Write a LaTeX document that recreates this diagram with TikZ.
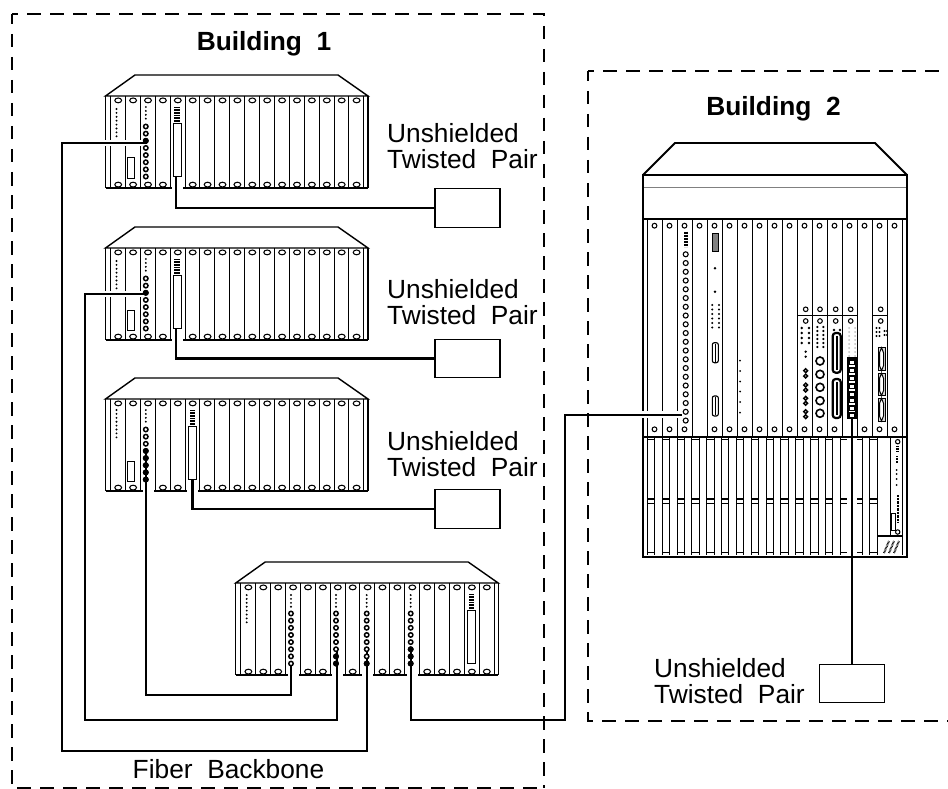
\documentclass[tikz,border=0pt]{standalone}
\usepackage{fontspec}
\setmainfont{Liberation Sans}
\tikzset{
  zone/.style={line width=1.9pt,dash pattern=on 13.5pt off 9.5pt},
  cable/.style={line width=2.4pt,preaction={draw,white,line width=6.5pt}},
  feed/.style={line width=2.2pt},
  termbox/.style={draw,line width=1.1pt,fill=white,minimum width=65pt,minimum height=38.5pt,inner sep=0pt},
  caption/.style={inner sep=0pt,align=left,font=\fontsize{26.3}{26.5}\selectfont},
  title/.style={inner sep=0pt,font=\bfseries\fontsize{26.3}{26.5}\selectfont},
  hole/.style={line width=1.05pt,fill=white},
  port/.style={line width=1.5pt,fill=white},
  darkport/.style={line width=1.5pt,fill=black},
  slotline/.style={line width=.9pt},
}
% small shelf: #1 = slots with no lower hole
\newcommand{\shelf}[1]{
  \draw[line width=1.4pt] (0,0)--(29.5,-21)--(232.5,-21)--(262.5,0)--cycle;
  \draw[line width=1.2pt] (0,0)--(0,92) (262.5,0)--(262.5,92);
  \foreach \k in {0,...,17} \draw[slotline] (5+14.9*\k,0)--(5+14.9*\k,92);
  \draw[line width=1.9pt] (0,92)--(262.5,92);
  \foreach \k in {0,...,16} {
    \draw[hole] (12.7+14.9*\k,4.4) ellipse (3.4 and 2.4);
    \draw[hole] (12.7+14.9*\k,88.6) ellipse (3.4 and 2.4);
  }
  \foreach \k in {#1} \fill[white] (12.7+14.9*\k-5.5,84) rectangle (12.7+14.9*\k+5.5,94);
}
\newcommand{\leds}[3]{\foreach \p in {0,...,#3} \fill (#1,#2+3.9*\p) circle (1.05);}
\newcommand{\ports}[1]{\foreach \p in {0,...,7} \draw[port] (#1,30.5+7.15*\p) circle (2.2);}
\newcommand{\darkports}[2]{\foreach \p in {#2} \draw[darkport] (#1,30.5+7.15*\p) circle (2.1);}
\newcommand{\rjcard}[1]{
  \draw[line width=5.5pt,dash pattern=on .9pt off .7pt] (#1,11)--(#1,27.5);
  \draw[line width=1.1pt,fill=white] (#1-4,27.7) rectangle (#1+4,80.3);
}
\newcommand{\cardtag}[1]{\draw[line width=1pt,fill=white] (#1-3.5,62) rectangle (#1+3.5,82.5);}
\begin{document}
\begin{tikzpicture}[x=1pt,y=-1pt]
  \useasboundingbox (0,0) rectangle (948,789);
  \fill[white] (0,0) rectangle (948,789);
  \coordinate (shelfA) at (105.5,96);
  \coordinate (shelfB) at (105.5,248);
  \coordinate (shelfC) at (105.5,399);
  \coordinate (shelfD) at (235.7,583);
  % shelves without their cards
  \begin{scope}[shift={(shelfA)}] \shelf{4} \end{scope}
  \begin{scope}[shift={(shelfB)}] \shelf{4} \end{scope}
  \begin{scope}[shift={(shelfC)}] \shelf{2,5} \end{scope}
  \begin{scope}[shift={(shelfD)}] \shelf{3,6,8,11} \end{scope}
  % big shelf
  \draw[line width=1.8pt] (643,175)--(675,143)--(875,143)--(907,175);
  \draw[line width=.9pt,gray] (643,187)--(907,187);
  \draw[line width=1.8pt] (643,219)--(907,219);
  \foreach \k in {0,...,17} \draw[slotline] (647.3+15*\k,219)--(647.3+15*\k,437);
  \foreach \k in {0,...,16} {
    \draw[hole] (654.5+15*\k,225.7) circle (2.4);
    \draw[hole] (654.5+15*\k,429.3) circle (2.4);
  }
  \fill[white] (696,424) rectangle (705,435);
  \fill[white] (846,424) rectangle (857,435);
  \foreach \k in {0,...,30} \draw[slotline] (647.3+7.42*\k,437)--(647.3+7.42*\k,555);
  \foreach \k in {0,2,...,30} {
    \draw[line width=1.1pt] (647.3+7.42*\k,439.5)--(654.7+7.42*\k,439.5);
    \draw[line width=1.1pt] (647.3+7.42*\k,499)--(654.7+7.42*\k,499);
    \draw[slotline] (647.3+7.42*\k,503.5)--(654.7+7.42*\k,503.5);
    \draw[slotline] (647.3+7.42*\k,552)--(654.7+7.42*\k,552);
  }
  \fill[white] (846.7,437.8) rectangle (857.3,555.8);
  \draw[line width=1.8pt] (643,437)--(907,437);
  \fill[white] (877.7,438) rectangle (906,556);
  \draw[slotline] (877.7,437)--(877.7,555) (890,437)--(890,536) (902.7,437)--(902.7,555);
  \draw[line width=1.5pt] (877.7,536)--(902.7,536);
  \draw[hole] (897.7,441.7) circle (2.2);
  \draw[hole] (897.7,532) circle (2.2);
  \draw[line width=3pt,dash pattern=on .8pt off .8pt] (897,446)--(897,452);
  \draw[line width=2.2pt,dash pattern=on .8pt off .8pt] (897,456)--(897,463);
  \foreach \y in {470,474,479,485} \fill (896.5,\y) circle (1);
  \draw[line width=1.5pt,dash pattern=on .7pt off .7pt] (898,495)--(898,522);
  \draw[line width=1pt] (891,513) rectangle (895,530);
  \foreach \s in {0,5,10} \draw[line width=2pt,dash pattern=on .7pt off .7pt] (884+\s,553)--(889+\s,541);
  \draw[line width=2.4pt] (643,175) rectangle (907,557);
  % cables
  \coordinate (fibA) at (147,143);
  \coordinate (fibB) at (147,294);
  \coordinate (fibC) at (146,448);
  \coordinate (fibDa) at (291,663);
  \coordinate (fibDb) at (336.7,648);
  \coordinate (fibDc) at (367,652);
  \coordinate (fibDd) at (411,647);
  \coordinate (fibE) at (682,414.7);
  \coordinate (busA) at (62,751);
  \coordinate (busB) at (85,720);
  \coordinate (busC) at (146,695);
  \coordinate (busD) at (565,720);
  \node[termbox] (termA) at (467.5,208) {};
  \node[termbox] (termB) at (467.5,358.5) {};
  \node[termbox] (termC) at (467.5,509) {};
  \node[termbox] (termD) at (852,683.5) {};
  \coordinate (rjA) at (176,176);
  \coordinate (rjB) at (176,328);
  \coordinate (rjC) at (192.5,478);
  \coordinate (rjD) at (852,418);
  \draw[cable] (fibA) -| (busA) -| (fibDc);
  \draw[cable] (fibB) -| (busB) -| (fibDb);
  \draw[cable] (fibC) |- (busC) -| (fibDa);
  \draw[cable] (fibDd) |- (busD) |- (fibE);
  \draw[feed] (rjA) |- (termA.west);
  \draw[feed] (rjB) |- (termB.west);
  \draw[feed] (rjC) |- (termC.west);
  \draw[feed] (rjD) -- (termD.north);
  % cards of the small shelves
  \begin{scope}[shift={(shelfA)}]
    \leds{11}{13}{7} \cardtag{25} \leds{40.3}{11}{3} \ports{40.3} \darkports{40.3}{2} \rjcard{71.7}
  \end{scope}
  \begin{scope}[shift={(shelfB)}]
    \leds{11}{13}{7} \cardtag{25} \leds{40.3}{11}{3} \ports{40.3} \darkports{40.3}{2} \rjcard{71.7}
  \end{scope}
  \begin{scope}[shift={(shelfC)}]
    \leds{11}{11}{7} \cardtag{25} \leds{40.3}{11}{3} \ports{40.3} \darkports{40.3}{3,4,5,6,7} \rjcard{87}
  \end{scope}
  \begin{scope}[shift={(shelfD)}]
    \leds{11}{12}{7} \leds{55.3}{12}{3} \ports{55.3}
    \leds{100.3}{12}{3} \ports{100.3} \darkports{100.3}{6,7}
    \leds{131}{12}{3} \ports{131} \darkports{131}{7}
    \leds{175}{12}{3} \ports{175} \darkports{175}{5,6,7}
    \rjcard{236}
  \end{scope}
  % cards of the big shelf
  \draw[line width=4.4pt,dash pattern=on .9pt off .6pt] (685.7,231.7)--(685.7,246.7);
  \foreach \p in {0,...,19} \draw[line width=1.1pt,fill=white] (685.7,254.3+8.75*\p) circle (2.5);
  \draw[line width=1pt,fill=gray] (712.3,233.3) rectangle (718.3,251);
  \fill (715,268.3) circle (1.4) (715,291.7) circle (1.4);
  \foreach \y in {305,309.5,314,318.5,323,327.5} \fill (712.3,\y) circle (1.1) (719,\y) circle (1.1);
  \foreach \y in {352.7,406} {
    \draw[line width=1.1pt,fill=white,rounded corners=2pt] (712.3,\y-10) rectangle (718.3,\y+10);
    \draw[line width=1pt] (715.3,\y-9)--(715.3,\y+9);
  }
  \foreach \y in {360.7,371,381.5,391.5,402,412.7} \fill (740,\y) circle (1);
  \draw[slotline] (798.3,315)--(858.3,315) (873.3,315)--(888.3,315);
  \foreach \x in {805.7,820,835.7,850.7} {
    \draw[hole] (\x,309.3) circle (2.3);
    \draw[hole] (\x,321) circle (2.3);
  }
  \draw[hole] (880.7,309.3) circle (2.3);
  \draw[hole] (880.7,321) circle (2.3);
  % module 10
  \foreach \y in {328,333,338,343} \fill (801.7,\y) circle (1.3) (809,\y) circle (1.3);
  \fill (805.7,351.7) circle (1.3) (805.7,356.7) circle (1.3);
  \foreach \y in {370.7,376,385,390,398.3,403.3,411.7,416.7} \draw[line width=1.5pt] (805.7,\y) circle (1.9);
  % module 11
  \foreach \y in {327,331,335,339,343,347} \fill (817.3,\y) circle (1.2) (823.3,\y) circle (1.2);
  \foreach \y in {361,374.3,387.3,400.7,413.3} \draw[line width=1.6pt] (820,\y) circle (4);
  % module 12
  \fill (834,330) circle (1.4) (840,330) circle (1.4);
  \foreach \a/\b in {333/372.7,379/418} {
    \draw[line width=2.2pt,fill=white,rounded corners=3pt] (832.7,\a) rectangle (840.7,\b);
    \fill (835.5,\a+3) rectangle (838,\b-3);
  }
  % module 13
  \foreach \y in {328,332,336,340,344,348,352,356} \fill[gray!50] (849,\y) circle (1) (855,\y) circle (1);
  \draw[line width=1.6pt,fill=white] (848,358) rectangle (855.7,418);
  \foreach \y in {360,368,376,384,392,398,406,413} \draw[line width=1.3pt,fill=white] (849.5,\y) rectangle (854.2,\y+4.5);
  % module 15
  \foreach \x in {876.5,879.5} \foreach \y in {328,332,336} \fill (\x,\y) circle (1.1);
  \foreach \y in {331,335} \fill (884.5,\y) circle (1.1) (887,\y) circle (1.1);
  \foreach \a/\b in {347.7/370.7,373.3/395.7,398.3/421} {
    \draw[line width=1pt,fill=gray!30] (878,\a) rectangle (885,\b);
    \draw[line width=1pt,fill=white] (881.5,\a)--(879.5,\a+5)--(879.5,\b-5)--(881.5,\b)--(883.5,\b-5)--(883.5,\a+5)--cycle;
  }
  % buildings
  \draw[zone,dash phase=8] (12,14)--(544,14)--(544,788);
  \draw[zone,dash phase=3] (12,14)--(12,788)--(544,788);
  \draw[zone,dash phase=8] (588,71)--(948,71);
  \draw[zone,dash phase=3] (588,71)--(588,721)--(948,721);
  % labels
  \node[title] (nameA) at (264,44) {Building\ \ 1};
  \node[title] (nameB) at (773.5,109) {Building\ \ 2};
  \node[caption,anchor=west] (labelA) at (387,146) {Unshielded\\Twisted\ \ Pair};
  \node[caption,anchor=west] (labelB) at (387,302) {Unshielded\\Twisted\ \ Pair};
  \node[caption,anchor=west] (labelC) at (387,454) {Unshielded\\Twisted\ \ Pair};
  \node[caption,anchor=west] (labelD) at (654,681) {Unshielded\\Twisted\ \ Pair};
  \node[caption] (labelE) at (228.5,769) {Fiber\ \ Backbone};
\end{tikzpicture}
\end{document}
